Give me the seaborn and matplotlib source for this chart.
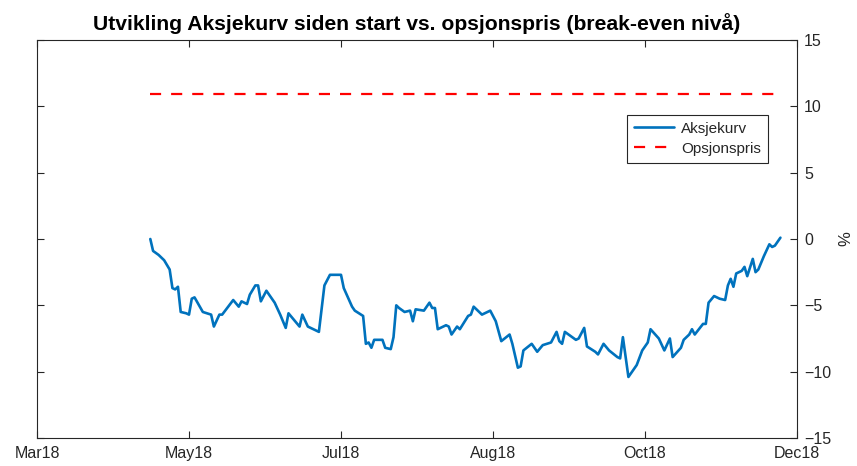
import pandas as pd
import numpy as np
import matplotlib
matplotlib.use("Agg")
import matplotlib.pyplot as plt
import seaborn as sns

#---Data---#

# days counted from 15 Mar 2018 (left edge of the x-axis)
start_date = pd.Timestamp("2018-03-15")
days = [41, 42, 44, 46, 48, 49, 50, 51, 52, 54, 55, 56, 57, 60, 63, 64, 66, 67,
        71, 73, 74, 76, 77, 79, 80, 81, 83, 86, 88, 90, 91, 95, 96, 98, 102, 104,
        105, 106, 110, 111, 114, 115, 118, 119, 120, 121, 122, 125, 126, 128, 129,
        130, 131, 133, 135, 136, 137, 140, 142, 143, 144, 145, 148, 149, 150, 152,
        153, 156, 157, 158, 161, 164, 166, 168, 171, 172, 174, 175, 176, 179, 181,
        183, 186, 188, 189, 190, 191, 195, 196, 198, 199, 202, 203, 205, 207, 210,
        211, 212, 214, 217, 219, 221, 222, 225, 227, 229, 230, 233, 234, 236, 237,
        238, 241, 242, 243, 245, 247, 249, 250, 251, 252, 253, 255, 256, 257, 259,
        260, 261, 263, 265, 266, 267, 269]
aksjekurv = [0.0, -0.9, -1.2, -1.6, -2.3, -3.7, -3.8, -3.6, -5.5, -5.6, -5.7, -4.5,
             -4.4, -5.5, -5.7, -6.6, -5.7, -5.7, -4.6, -5.1, -4.7, -4.9, -4.2, -3.5,
             -3.5, -4.7, -3.9, -4.8, -5.7, -6.7, -5.6, -6.6, -5.7, -6.6, -7.0, -3.5,
             -3.1, -2.7, -2.7, -3.7, -5.1, -5.4, -5.8, -7.9, -7.8, -8.2, -7.6, -7.6,
             -8.2, -8.3, -7.4, -5.0, -5.2, -5.5, -5.4, -6.2, -5.3, -5.4, -4.8, -5.2,
             -5.2, -6.8, -6.5, -6.6, -7.2, -6.6, -6.8, -5.8, -5.7, -5.1, -5.7, -5.4,
             -6.2, -7.7, -7.2, -7.9, -9.7, -9.6, -8.4, -7.9, -8.5, -8.0, -7.8, -7.0,
             -7.7, -7.9, -7.0, -7.6, -7.5, -6.7, -8.1, -8.5, -8.7, -7.9, -8.4, -8.9,
             -9.0, -7.4, -10.4, -9.5, -8.4, -7.8, -6.8, -7.5, -8.4, -7.5, -8.9, -8.2,
             -7.6, -7.2, -6.8, -7.2, -6.4, -6.4, -4.8, -4.3, -4.5, -4.6, -3.5, -3.0,
             -3.6, -2.6, -2.4, -2.1, -2.8, -1.5, -2.5, -2.3, -1.3, -0.4, -0.6, -0.5,
             0.1]

opsjon_days = [41, 269]
opsjonspris = 10.9

tick_labels = ["Mar18", "May18", "Jul18", "Aug18", "Oct18", "Dec18"]
tick_step = 55  # days between ticks

#---Prepare---#

kurs = pd.DataFrame({"dato": start_date + pd.to_timedelta(days, unit="D"),
                     "verdi": aksjekurv})
opsjon = pd.DataFrame({"dato": start_date + pd.to_timedelta(opsjon_days, unit="D"),
                       "verdi": [opsjonspris] * len(opsjon_days)})

#---Render plot---#

sns.set_style("white")
plt.rcParams["font.family"] = ["Liberation Sans", "DejaVu Sans"]

fig, ax = plt.subplots(figsize=(8.57, 4.66), dpi=100)
fig.subplots_adjust(left=37/857, right=797/857, top=1-40/466, bottom=1-438/466)

sns.lineplot(data=kurs, x="dato", y="verdi", ax=ax, color="#0072BD",
             linewidth=1.9, label="Aksjekurv")
sns.lineplot(data=opsjon, x="dato", y="verdi", ax=ax, color="#FF0000",
             linewidth=1.6, label="Opsjonspris", dashes=False)
ax.lines[1].set_dashes((5, 4.5))

#----Formatting----#
ticks = [start_date + pd.Timedelta(days=tick_step * i) for i in range(len(tick_labels))]
ax.set_xlim(ticks[0], ticks[-1])
ax.set_xticks(ticks)
ax.set_xticklabels(tick_labels)
ax.set_ylim(-15, 15)
ax.set_yticks(np.arange(-15, 16, 5))

ax.yaxis.tick_right()
ax.yaxis.set_label_position("right")
ax.set_ylabel("%", fontsize=12, labelpad=5, color="#262626")
ax.set_xlabel("")
ax.tick_params(axis="both", which="both", direction="in", length=5, width=0.8,
               color="#262626", labelsize=11.5, labelcolor="#262626",
               top=True, bottom=True, left=True, right=True,
               labelleft=False, labelright=True)
ax.tick_params(axis="x", pad=6)
ax.tick_params(axis="y", pad=5)
for sp in ax.spines.values():
    sp.set_visible(True)
    sp.set_color("#262626")
    sp.set_linewidth(0.8)

ax.set_title("Utvikling Aksjekurv siden start vs. opsjonspris (break-even nivå)",
             fontsize=15.2, fontweight="bold", pad=7, color="black")

leg = ax.legend(loc="upper right", bbox_to_anchor=(0.962, 0.812), borderaxespad=0,
                fontsize=11, frameon=True, fancybox=False, framealpha=1,
                edgecolor="#262626", handlelength=2.6, borderpad=0.45,
                labelspacing=0.4, handletextpad=0.5)
leg.get_frame().set_linewidth(0.8)

plt.savefig("out.png", dpi=100)
